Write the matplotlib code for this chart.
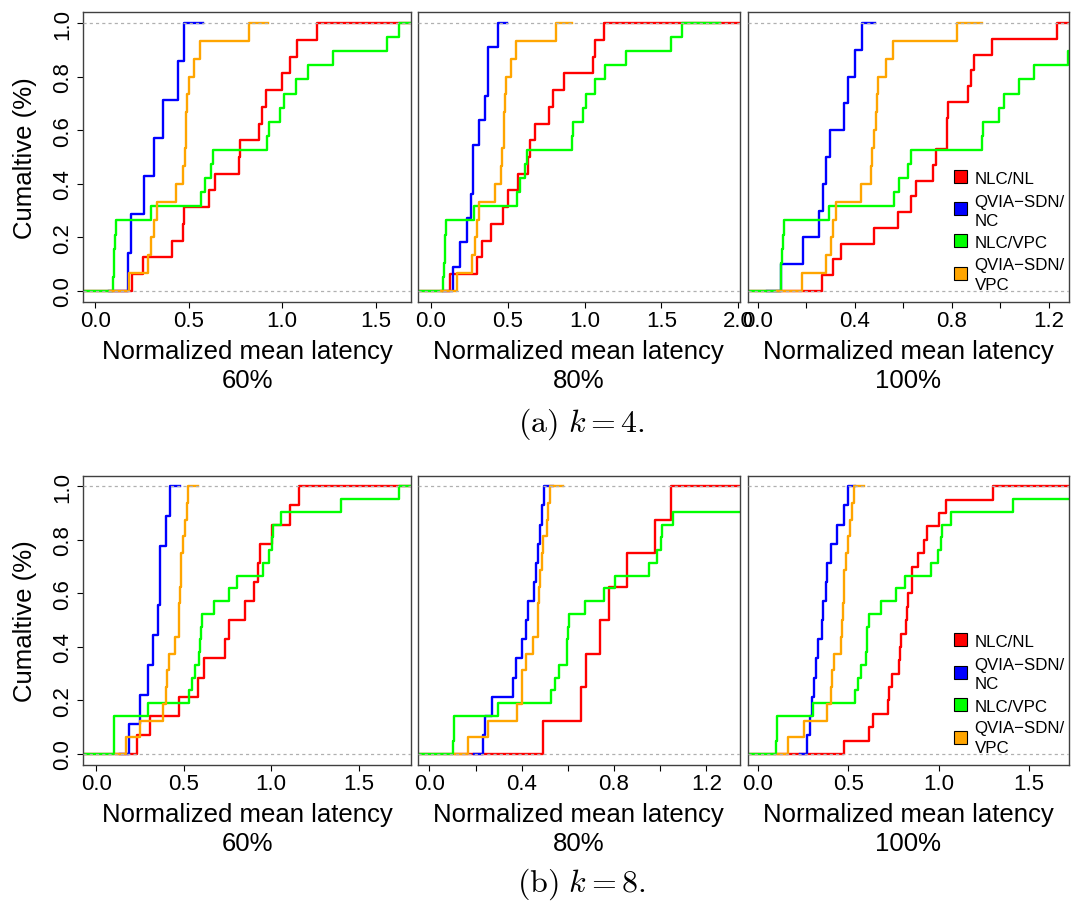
import numpy as np
import matplotlib
matplotlib.use('Agg')
import matplotlib.pyplot as plt
from matplotlib.patches import Rectangle

plt.rcParams['font.family'] = ['Liberation Sans', 'DejaVu Sans']
plt.rcParams['mathtext.fontset'] = 'cm'

series_names = ['NLC/NL', 'QVIA\u2212SDN/\nNC', 'NLC/VPC', 'QVIA\u2212SDN/\nVPC']
series_colors = ['#ff0000', '#0000ff', '#00ff00', '#ffa500']
load_labels = ['60%', '80%', '100%']
row_captions = [r'$\mathrm{(a)}\ k=4.$', r'$\mathrm{(b)}\ k=8.$']
x_label = 'Normalized mean latency'
y_label = 'Cumaltive (%)'

# ---------- k = 4 ----------
k4_60_nlc_nl = [0.198, 0.253, 0.408, 0.467, 0.474, 0.610, 0.640, 0.770, 0.775, 0.878, 0.892, 0.912, 1.001, 1.042, 1.081, 1.185]
k4_60_qvia_nc = [0.176, 0.191, 0.262, 0.314, 0.364, 0.444, 0.473]
k4_60_nlc_vpc = [0.096, 0.098, 0.101, 0.107, 0.110, 0.296, 0.564, 0.585, 0.617, 0.631, 0.921, 0.930, 0.989, 1.012, 1.074, 1.137, 1.274, 1.560, 1.628]
k4_60_qvia_vpc = [0.182, 0.280, 0.298, 0.314, 0.328, 0.430, 0.467, 0.478, 0.483, 0.487, 0.492, 0.499, 0.528, 0.558, 0.821]

k4_80_nlc_nl = [0.122, 0.300, 0.332, 0.389, 0.471, 0.504, 0.567, 0.632, 0.647, 0.678, 0.769, 0.795, 0.869, 1.058, 1.066, 1.127]
k4_80_qvia_nc = [0.141, 0.189, 0.234, 0.260, 0.271, 0.276, 0.315, 0.352, 0.369, 0.374, 0.434]
k4_80_nlc_vpc = [0.080, 0.085, 0.089, 0.093, 0.098, 0.282, 0.558, 0.578, 0.612, 0.625, 0.916, 0.925, 0.988, 1.012, 1.071, 1.136, 1.272, 1.566, 1.633]
k4_80_qvia_vpc = [0.167, 0.269, 0.287, 0.302, 0.310, 0.417, 0.456, 0.465, 0.473, 0.478, 0.482, 0.489, 0.521, 0.552, 0.816]

k4_100_nlc_nl = [0.267, 0.312, 0.343, 0.480, 0.580, 0.631, 0.652, 0.725, 0.734, 0.780, 0.782, 0.784, 0.869, 0.880, 0.894, 0.968, 1.236]
k4_100_qvia_nc = [0.095, 0.186, 0.253, 0.271, 0.282, 0.299, 0.356, 0.371, 0.402, 0.430]
k4_100_nlc_vpc = [0.095, 0.096, 0.099, 0.103, 0.110, 0.294, 0.564, 0.583, 0.619, 0.631, 0.924, 0.931, 0.995, 1.017, 1.078, 1.141, 1.281, 1.40, 1.60]
k4_100_qvia_vpc = [0.182, 0.282, 0.301, 0.312, 0.325, 0.426, 0.468, 0.473, 0.481, 0.487, 0.494, 0.498, 0.530, 0.560, 0.824]

# ---------- k = 8 ----------
k8_60_nlc_nl = [0.230, 0.308, 0.470, 0.583, 0.617, 0.735, 0.758, 0.848, 0.903, 0.923, 0.936, 1.006, 1.109, 1.157]
k8_60_qvia_nc = [0.188, 0.249, 0.297, 0.325, 0.352, 0.362, 0.365, 0.398, 0.421]
k8_60_nlc_vpc = [0.098, 0.100, 0.101, 0.297, 0.530, 0.547, 0.562, 0.589, 0.592, 0.596, 0.606, 0.673, 0.757, 0.804, 0.953, 0.987, 1.005, 1.008, 1.054, 1.401, 1.733]
k8_60_qvia_vpc = [0.167, 0.249, 0.379, 0.400, 0.403, 0.415, 0.449, 0.470, 0.474, 0.478, 0.482, 0.486, 0.495, 0.508, 0.516, 0.526]

k8_80_nlc_nl = [0.493, 0.657, 0.677, 0.740, 0.778, 0.856, 0.977, 1.048]
k8_80_qvia_nc = [0.233, 0.240, 0.269, 0.363, 0.375, 0.402, 0.417, 0.428, 0.454, 0.460, 0.469, 0.479, 0.489, 0.495]
k8_80_nlc_vpc = [0.103, 0.105, 0.106, 0.296, 0.527, 0.544, 0.561, 0.595, 0.596, 0.599, 0.605, 0.674, 0.756, 0.804, 0.953, 0.985, 1.004, 1.009, 1.054, 1.40, 1.50]
k8_80_qvia_vpc = [0.168, 0.252, 0.381, 0.399, 0.402, 0.418, 0.450, 0.469, 0.472, 0.475, 0.479, 0.486, 0.493, 0.508, 0.515, 0.522]

k8_100_nlc_nl = [0.477, 0.617, 0.636, 0.722, 0.726, 0.741, 0.781, 0.785, 0.792, 0.820, 0.824, 0.833, 0.851, 0.855, 0.884, 0.921, 0.934, 1.002, 1.041, 1.299]
k8_100_qvia_nc = [0.271, 0.289, 0.302, 0.312, 0.321, 0.332, 0.358, 0.361, 0.378, 0.385, 0.406, 0.437, 0.477, 0.501]
k8_100_nlc_vpc = [0.104, 0.105, 0.106, 0.304, 0.538, 0.556, 0.569, 0.599, 0.603, 0.606, 0.615, 0.682, 0.765, 0.814, 0.958, 0.995, 1.013, 1.017, 1.066, 1.413, 1.80]
k8_100_qvia_vpc = [0.170, 0.258, 0.385, 0.407, 0.411, 0.424, 0.459, 0.468, 0.472, 0.475, 0.479, 0.487, 0.498, 0.512, 0.520, 0.531]

panel_data = [
    [[k4_60_nlc_nl, k4_60_qvia_nc, k4_60_nlc_vpc, k4_60_qvia_vpc],
     [k4_80_nlc_nl, k4_80_qvia_nc, k4_80_nlc_vpc, k4_80_qvia_vpc],
     [k4_100_nlc_nl, k4_100_qvia_nc, k4_100_nlc_vpc, k4_100_qvia_vpc]],
    [[k8_60_nlc_nl, k8_60_qvia_nc, k8_60_nlc_vpc, k8_60_qvia_vpc],
     [k8_80_nlc_nl, k8_80_qvia_nc, k8_80_nlc_vpc, k8_80_qvia_vpc],
     [k8_100_nlc_nl, k8_100_qvia_nc, k8_100_nlc_vpc, k8_100_qvia_vpc]],
]

x_limits = [[(-0.065, 1.69), (-0.087, 2.013), (-0.041, 1.284)],
            [(-0.075, 1.80), (-0.051, 1.346), (-0.055, 1.72)]]
x_ticks = [[[0, 0.5, 1.0, 1.5], [0, 0.5, 1.0, 1.5, 2.0], [0, 0.2, 0.4, 0.6, 0.8, 1.0, 1.2]],
           [[0, 0.5, 1.0, 1.5], [0, 0.2, 0.4, 0.6, 0.8, 1.0, 1.2], [0, 0.5, 1.0, 1.5]]]
x_ticklabels = [[['0.0', '0.5', '1.0', '1.5'], ['0.0', '0.5', '1.0', '1.5', '2.0'],
                 ['0.0', '', '0.4', '', '0.8', '', '1.2']],
                [['0.0', '0.5', '1.0', '1.5'], ['0.0', '', '0.4', '', '0.8', '', '1.2'],
                 ['0.0', '0.5', '1.0', '1.5']]]
y_ticks = [0.0, 0.2, 0.4, 0.6, 0.8, 1.0]
y_ticklabels = ['0.0', '0.2', '0.4', '0.6', '0.8', '1.0']

W, H = 1072, 903
fig = plt.figure(figsize=(W / 100, H / 100), dpi=100)

col_px = [(83.3, 411.0), (417.7, 740.0), (747.7, 1069.0)]
row_px = [(13.3, 302.7), (476.6, 765.7)]

# legend layout in pixels, relative to the top-left corner of the right-hand axes
leg_square_x = (206.5, 219.5)
leg_square_yc = [164.2, 196.6, 228.4, 261.6]
leg_text_x = 226.8
leg_line_baselines = [[170.2], [193.4, 212.4], [235.2], [256.4, 276.4]]

for r in range(2):
    for c in range(3):
        x0, x1 = col_px[c]
        y0, y1 = row_px[r]
        aw, ah = x1 - x0, y1 - y0
        ax = fig.add_axes([x0 / W, 1 - y1 / H, aw / W, ah / H])
        xlo, xhi = x_limits[r][c]
        for i, (data, col) in enumerate(zip(panel_data[r][c], series_colors)):
            xs = np.sort(np.asarray(data, dtype=float))
            n = len(xs)
            ys = np.arange(1, n + 1) / n
            if i == 0:
                xa, xb = xlo - 1, xhi + 1
            else:
                dr = max(0.08 * (xs[-1] - xs[0]), np.median(np.diff(xs)))
                xa, xb = xs[0] - 2 * dr, xs[-1] + 2 * dr
            px = np.r_[xa, xs, xb]
            py = np.r_[0.0, ys, 1.0]
            ax.step(px, py, where='post', color=col, lw=1.7, zorder=2)
        ax.axhline(0, color='#b0b0b0', lw=0.9, ls=(0, (2.5, 2.5)), zorder=5)
        ax.axhline(1, color='#b0b0b0', lw=0.9, ls=(0, (2.5, 2.5)), zorder=5)
        ax.set_xlim(xlo, xhi)
        ax.set_ylim(-0.04, 1.04)
        ax.set_xticks(x_ticks[r][c])
        ax.set_xticklabels(x_ticklabels[r][c], fontsize=16)
        ax.tick_params(axis='x', direction='out', length=4, width=0.8, pad=2, colors='black')
        for sp in ax.spines.values():
            sp.set_color('#404040')
            sp.set_linewidth(1.0)
        ax.set_xlabel(x_label + '\n' + load_labels[c], fontsize=18.5, labelpad=6, linespacing=1.25)
        if c == 0:
            ax.set_yticks(y_ticks)
            ax.set_yticklabels(y_ticklabels, fontsize=16, rotation=90, va='center')
            ax.tick_params(axis='y', direction='out', length=4, width=0.8, pad=3)
            ax.set_ylabel(y_label, fontsize=18.5)
            ax.yaxis.set_label_coords(-0.141, 0.5)
        else:
            ax.set_yticks([])
        if c == 2:
            sq_w = leg_square_x[1] - leg_square_x[0]
            for name, col, yc, bls in zip(series_names, series_colors, leg_square_yc, leg_line_baselines):
                ax.add_patch(Rectangle((leg_square_x[0] / aw, 1 - (yc + sq_w / 2) / ah),
                                       sq_w / aw, sq_w / ah, transform=ax.transAxes,
                                       facecolor=col, edgecolor='black', lw=0.8,
                                       zorder=6, clip_on=False))
                for line, bl in zip(name.split('\n'), bls):
                    ax.text(leg_text_x / aw, 1 - bl / ah, line, transform=ax.transAxes,
                            fontsize=12.2, ha='left', va='baseline', zorder=6)

fig.text(581 / W, 1 - 424 / H, row_captions[0], fontsize=23, ha='center', va='center')
fig.text(581 / W, 1 - 884 / H, row_captions[1], fontsize=23, ha='center', va='center')

fig.savefig('out.png', dpi=100, facecolor='white')
